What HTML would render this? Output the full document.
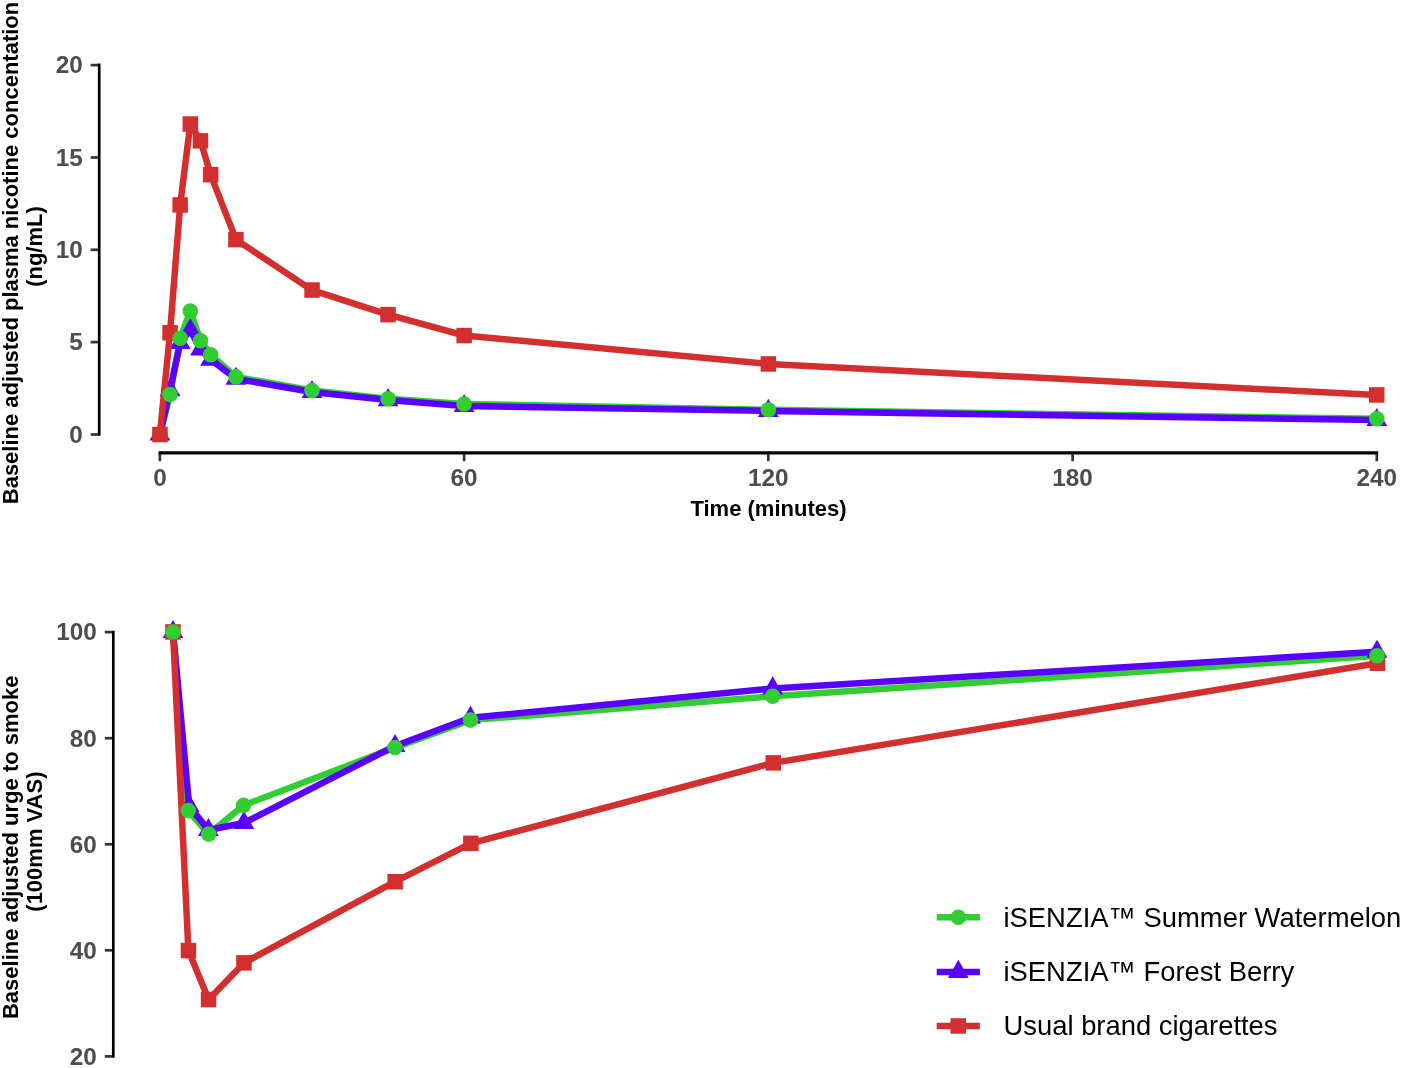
<!DOCTYPE html>
<html lang="en"><head><meta charset="utf-8"><title>Figure</title>
<style>
html,body{margin:0;padding:0;background:#fff;}
body{width:1405px;height:1068px;overflow:hidden;}
svg{display:block;font-family:"Liberation Sans",Arial,Helvetica,sans-serif;}
.tk{font-weight:bold;font-size:24.3px;fill:#4D4D4D;}
.tt{font-weight:bold;font-size:22px;fill:#000;}
.lg{font-size:27.4px;fill:#000;}
</style></head><body>
<svg width="1405" height="1068" viewBox="0 0 1405 1068">
<rect width="1405" height="1068" fill="#fff"/>
<g id="top-axes">
<line x1="99.2" y1="63.6" x2="99.2" y2="435.8" stroke="#000" stroke-width="2.7"/>
<line x1="90.7" y1="434.5" x2="98" y2="434.5" stroke="#333333" stroke-width="2.7"/>
<text class="tk" x="82.8" y="442.8" text-anchor="end">0</text>
<line x1="90.7" y1="342.1" x2="98" y2="342.1" stroke="#333333" stroke-width="2.7"/>
<text class="tk" x="82.8" y="350.4" text-anchor="end">5</text>
<line x1="90.7" y1="249.8" x2="98" y2="249.8" stroke="#333333" stroke-width="2.7"/>
<text class="tk" x="82.8" y="258.1" text-anchor="end">10</text>
<line x1="90.7" y1="157.5" x2="98" y2="157.5" stroke="#333333" stroke-width="2.7"/>
<text class="tk" x="82.8" y="165.8" text-anchor="end">15</text>
<line x1="90.7" y1="65.1" x2="98" y2="65.1" stroke="#333333" stroke-width="2.7"/>
<text class="tk" x="82.8" y="73.4" text-anchor="end">20</text>
<line x1="158.5" y1="452.9" x2="1378.2" y2="452.9" stroke="#000" stroke-width="3.1"/>
<line x1="159.9" y1="454" x2="159.9" y2="461.2" stroke="#333333" stroke-width="2.7"/>
<text class="tk" x="159.9" y="486" text-anchor="middle">0</text>
<line x1="464.1" y1="454" x2="464.1" y2="461.2" stroke="#333333" stroke-width="2.7"/>
<text class="tk" x="464.1" y="486" text-anchor="middle">60</text>
<line x1="768.3" y1="454" x2="768.3" y2="461.2" stroke="#333333" stroke-width="2.7"/>
<text class="tk" x="768.3" y="486" text-anchor="middle">120</text>
<line x1="1072.6" y1="454" x2="1072.6" y2="461.2" stroke="#333333" stroke-width="2.7"/>
<text class="tk" x="1072.6" y="486" text-anchor="middle">180</text>
<line x1="1376.8" y1="454" x2="1376.8" y2="461.2" stroke="#333333" stroke-width="2.7"/>
<text class="tk" x="1376.8" y="486" text-anchor="middle">240</text>
<text class="tt" x="768.5" y="516.2" text-anchor="middle">Time (minutes)</text>
<text class="tt" transform="translate(18.4,253) rotate(-90)" text-anchor="middle">Baseline adjusted plasma nicotine concentation</text>
<text class="tt" transform="translate(42,246.5) rotate(-90)" text-anchor="middle">(ng/mL)</text>
</g>
<g id="top-data">
<polyline fill="none" stroke="#32CD32" stroke-width="6.5" stroke-linejoin="round" stroke-linecap="butt" points="159.9,434.5 170,394.6 180.2,338.3 190.3,311.1 200.5,340.7 210.6,354.7 236,376.9 312,390.5 388.1,398.7 464.1,404 768.3,409.8 1376.8,418.7"/>
<polyline fill="none" stroke="#5A00FF" stroke-width="6.5" stroke-linejoin="round" stroke-linecap="butt" points="159.9,434.5 170,390.2 180.2,343.1 190.3,330.1 200.5,349.5 210.6,359.7 236,378.7 312,392 388.1,400.1 464.1,406.1 768.3,410.9 1376.8,420.1"/>
<polygon points="159.9,422.4 170.3,440.5 149.5,440.5" fill="#5A00FF"/>
<polygon points="170,378.1 180.5,396.2 159.6,396.2" fill="#5A00FF"/>
<polygon points="180.2,331 190.6,349.1 169.7,349.1" fill="#5A00FF"/>
<polygon points="190.3,318.1 200.8,336.2 179.9,336.2" fill="#5A00FF"/>
<polygon points="200.5,337.5 210.9,355.6 190,355.6" fill="#5A00FF"/>
<polygon points="210.6,347.6 221,365.7 200.2,365.7" fill="#5A00FF"/>
<polygon points="236,366.7 246.4,384.7 225.5,384.7" fill="#5A00FF"/>
<polygon points="312,380 322.4,398 301.6,398" fill="#5A00FF"/>
<polygon points="388.1,388.1 398.5,406.2 377.6,406.2" fill="#5A00FF"/>
<polygon points="464.1,394 474.6,412.1 453.7,412.1" fill="#5A00FF"/>
<polygon points="768.3,398.8 778.8,416.9 757.9,416.9" fill="#5A00FF"/>
<polygon points="1376.8,408 1387.2,426.1 1366.4,426.1" fill="#5A00FF"/>
<polyline fill="none" stroke="#D32F2F" stroke-width="6.5" stroke-linejoin="round" stroke-linecap="butt" points="159.9,434.5 170,332.7 180.2,204.9 190.3,124 200.5,140.8 210.6,174.6 236,239.6 312,290.1 388.1,314.6 464.1,335.5 768.3,363.9 1376.8,395"/>
<circle cx="159.9" cy="434.5" r="7.8" fill="#32CD32"/>
<rect x="152.2" y="426.8" width="15.5" height="15.5" fill="#D32F2F"/>
<rect x="162.3" y="325" width="15.5" height="15.5" fill="#D32F2F"/>
<rect x="172.4" y="197.2" width="15.5" height="15.5" fill="#D32F2F"/>
<rect x="182.6" y="116.3" width="15.5" height="15.5" fill="#D32F2F"/>
<rect x="192.7" y="133.1" width="15.5" height="15.5" fill="#D32F2F"/>
<rect x="202.9" y="166.9" width="15.5" height="15.5" fill="#D32F2F"/>
<rect x="228.2" y="231.9" width="15.5" height="15.5" fill="#D32F2F"/>
<rect x="304.3" y="282.3" width="15.5" height="15.5" fill="#D32F2F"/>
<rect x="380.3" y="306.9" width="15.5" height="15.5" fill="#D32F2F"/>
<rect x="456.4" y="327.8" width="15.5" height="15.5" fill="#D32F2F"/>
<rect x="760.6" y="356.2" width="15.5" height="15.5" fill="#D32F2F"/>
<rect x="1369" y="387.2" width="15.5" height="15.5" fill="#D32F2F"/>
<circle cx="170" cy="394.6" r="7.8" fill="#32CD32"/>
<circle cx="180.2" cy="338.3" r="7.8" fill="#32CD32"/>
<circle cx="190.3" cy="311.1" r="7.8" fill="#32CD32"/>
<circle cx="200.5" cy="340.7" r="7.8" fill="#32CD32"/>
<circle cx="210.6" cy="354.7" r="7.8" fill="#32CD32"/>
<circle cx="236" cy="376.9" r="7.8" fill="#32CD32"/>
<circle cx="312" cy="390.5" r="7.8" fill="#32CD32"/>
<circle cx="388.1" cy="398.7" r="7.8" fill="#32CD32"/>
<circle cx="464.1" cy="404" r="7.8" fill="#32CD32"/>
<circle cx="768.3" cy="409.8" r="7.8" fill="#32CD32"/>
<circle cx="1376.8" cy="418.7" r="7.8" fill="#32CD32"/>
</g>
<g id="bot-axes">
<line x1="113.3" y1="630.8" x2="113.3" y2="1057.7" stroke="#000" stroke-width="2.7"/>
<line x1="104.8" y1="632.1" x2="112.1" y2="632.1" stroke="#333333" stroke-width="2.7"/>
<text class="tk" x="96.9" y="640.4" text-anchor="end">100</text>
<line x1="104.8" y1="738.2" x2="112.1" y2="738.2" stroke="#333333" stroke-width="2.7"/>
<text class="tk" x="96.9" y="746.5" text-anchor="end">80</text>
<line x1="104.8" y1="844.3" x2="112.1" y2="844.3" stroke="#333333" stroke-width="2.7"/>
<text class="tk" x="96.9" y="852.6" text-anchor="end">60</text>
<line x1="104.8" y1="950.3" x2="112.1" y2="950.3" stroke="#333333" stroke-width="2.7"/>
<text class="tk" x="96.9" y="958.6" text-anchor="end">40</text>
<line x1="104.8" y1="1056.4" x2="112.1" y2="1056.4" stroke="#333333" stroke-width="2.7"/>
<text class="tk" x="96.9" y="1064.7" text-anchor="end">20</text>
<text class="tt" transform="translate(18.4,847.3) rotate(-90)" text-anchor="middle">Baseline adjusted urge to smoke</text>
<text class="tt" transform="translate(42,841.6) rotate(-90)" text-anchor="middle">(100mm VAS)</text>
</g>
<g id="bot-data">
<polyline fill="none" stroke="#32CD32" stroke-width="6.5" stroke-linejoin="round" stroke-linecap="butt" points="173,632 188.2,810.6 208.7,834.1 243.5,805.4 395,747.6 470.5,720.1 772.7,696.3 1377,655.8"/>
<polyline fill="none" stroke="#5A00FF" stroke-width="6.5" stroke-linejoin="round" stroke-linecap="butt" points="173,632 189.2,806 208.4,830 243.9,823 395,746 470.5,717.8 772.7,688.4 1377,651.8"/>
<polygon points="173,619.9 183.4,638 162.6,638" fill="#5A00FF"/>
<polygon points="189.2,793.9 199.6,812 178.8,812" fill="#5A00FF"/>
<polygon points="208.4,817.9 218.8,836 198,836" fill="#5A00FF"/>
<polygon points="243.9,810.9 254.3,829 233.5,829" fill="#5A00FF"/>
<polygon points="395,733.9 405.4,752 384.6,752" fill="#5A00FF"/>
<polygon points="470.5,705.7 480.9,723.8 460.1,723.8" fill="#5A00FF"/>
<polygon points="772.7,676.3 783.1,694.4 762.3,694.4" fill="#5A00FF"/>
<polygon points="1377,639.7 1387.4,657.8 1366.6,657.8" fill="#5A00FF"/>
<polyline fill="none" stroke="#D32F2F" stroke-width="6.5" stroke-linejoin="round" stroke-linecap="butt" points="173,632 188.4,950.5 208.6,999.5 244,962.9 395.1,881.7 470.9,843.4 773.2,762.9 1377.4,663.3"/>
<rect x="165.2" y="624.2" width="15.5" height="15.5" fill="#D32F2F"/>
<rect x="180.7" y="942.8" width="15.5" height="15.5" fill="#D32F2F"/>
<rect x="200.8" y="991.8" width="15.5" height="15.5" fill="#D32F2F"/>
<rect x="236.2" y="955.1" width="15.5" height="15.5" fill="#D32F2F"/>
<rect x="387.4" y="874" width="15.5" height="15.5" fill="#D32F2F"/>
<rect x="463.1" y="835.6" width="15.5" height="15.5" fill="#D32F2F"/>
<rect x="765.5" y="755.1" width="15.5" height="15.5" fill="#D32F2F"/>
<rect x="1369.7" y="655.5" width="15.5" height="15.5" fill="#D32F2F"/>
<circle cx="173" cy="632" r="7.8" fill="#32CD32"/>
<circle cx="188.2" cy="810.6" r="7.8" fill="#32CD32"/>
<circle cx="208.7" cy="834.1" r="7.8" fill="#32CD32"/>
<circle cx="243.5" cy="805.4" r="7.8" fill="#32CD32"/>
<circle cx="395" cy="747.6" r="7.8" fill="#32CD32"/>
<circle cx="470.5" cy="720.1" r="7.8" fill="#32CD32"/>
<circle cx="772.7" cy="696.3" r="7.8" fill="#32CD32"/>
<circle cx="1377" cy="655.8" r="7.8" fill="#32CD32"/>
</g>
<g id="legend">
<line x1="936.7" y1="917.2" x2="979.9" y2="917.2" stroke="#32CD32" stroke-width="6.5"/>
<line x1="936.7" y1="971.9" x2="979.9" y2="971.9" stroke="#5A00FF" stroke-width="6.5"/>
<line x1="936.7" y1="1025.9" x2="979.9" y2="1025.9" stroke="#D32F2F" stroke-width="6.5"/>
<circle cx="958.3" cy="917.2" r="7.8" fill="#32CD32"/>
<polygon points="958.3,959.8 968.7,977.9 947.9,977.9" fill="#5A00FF"/>
<rect x="950.5" y="1018.2" width="15.5" height="15.5" fill="#D32F2F"/>
<text class="lg" x="1003.5" y="927.2">iSENZIA™ Summer Watermelon</text>
<text class="lg" x="1003.5" y="981.2">iSENZIA™ Forest Berry</text>
<text class="lg" x="1003.5" y="1035.2">Usual brand cigarettes</text>
</g>
</svg></body></html>
